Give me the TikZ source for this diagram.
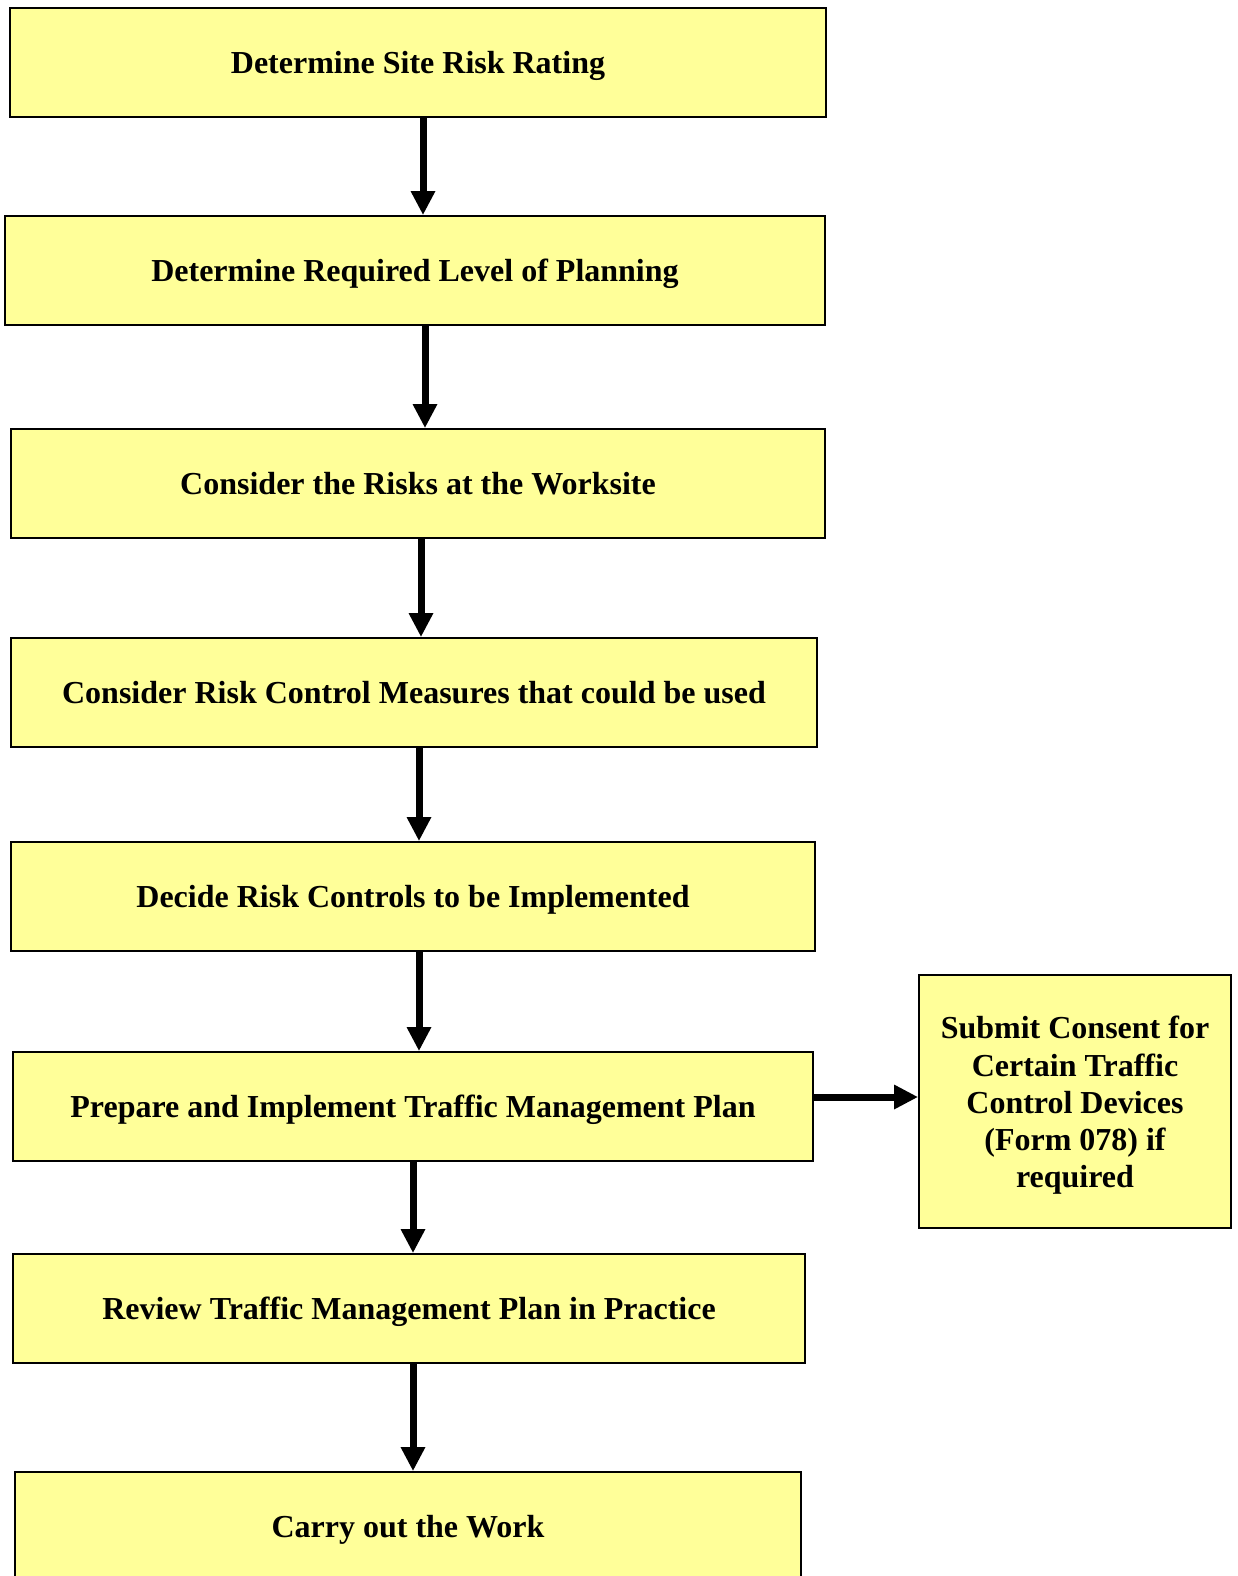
\documentclass[tikz,border=0pt]{standalone}
\usepackage{fontspec}
\setmainfont{Liberation Serif}
\usetikzlibrary{arrows.meta}
\definecolor{boxfill}{HTML}{FFFF99}
\tikzset{
  boxbase/.style={draw=black, line width=1.8pt, fill=boxfill, inner sep=0pt,
    font=\fontsize{32}{37.2}\selectfont\bfseries, align=center},
  stepbox/.style={boxbase, text height=24pt, text depth=2pt},
  sidetext/.style={inner sep=0pt, font=\fontsize{32}{37.2}\selectfont\bfseries, align=center},
  arr/.style={line width=7pt, -{Triangle[length=24pt,width=23pt]}},
}
\begin{document}
\begin{tikzpicture}[x=1pt,y=-1pt]
\useasboundingbox (0,0) rectangle (1237,1576);
\clip (0,0) rectangle (1237,1576);
\fill[white] (0,0) rectangle (1237,1576);
\node[stepbox, minimum width=816pt, minimum height=109pt] (b1) at (418,62.5) {Determine Site Risk Rating};
\node[stepbox, minimum width=820pt, minimum height=109pt] (b2) at (415,270.5) {Determine Required Level of Planning};
\node[stepbox, minimum width=814pt, minimum height=109pt] (b3) at (418,483.5) {Consider the Risks at the Worksite};
\node[stepbox, minimum width=806pt, minimum height=109pt] (b4) at (414,692.5) {Consider Risk Control Measures that could be used};
\node[stepbox, minimum width=804pt, minimum height=109pt] (b5) at (413,896.5) {Decide Risk Controls to be Implemented};
\node[stepbox, minimum width=800pt, minimum height=109pt] (b6) at (413,1106.5) {Prepare and Implement Traffic Management Plan};
\node[stepbox, minimum width=792pt, minimum height=109pt] (b7) at (409,1308.5) {Review Traffic Management Plan in Practice};
\node[stepbox, minimum width=786pt, minimum height=109pt] (b8) at (408,1526.5) {Carry out the Work};
\node[boxbase, minimum width=312pt, minimum height=253pt] (s) at (1075,1101.5) {};
\node[sidetext] (st) at ([yshift=-4pt]s.center) {Submit Consent for\\Certain Traffic\\Control Devices\\(Form 078) if\\required};
\coordinate (x1) at (423,0);
\coordinate (x2) at (425,0);
\coordinate (x3) at (421,0);
\coordinate (x4) at (419,0);
\coordinate (x5) at (419,0);
\coordinate (x6) at (413,0);
\coordinate (x7) at (413,0);
\coordinate (yh) at (0,1097);
\draw[arr] (b1.south -| x1) -- (b2.north -| x1);
\draw[arr] (b2.south -| x2) -- (b3.north -| x2);
\draw[arr] (b3.south -| x3) -- (b4.north -| x3);
\draw[arr] (b4.south -| x4) -- (b5.north -| x4);
\draw[arr] (b5.south -| x5) -- (b6.north -| x5);
\draw[arr] (b6.south -| x6) -- (b7.north -| x6);
\draw[arr] (b7.south -| x7) -- (b8.north -| x7);
\draw[arr] (b6.east |- yh) -- (s.west |- yh);
\end{tikzpicture}
\end{document}
